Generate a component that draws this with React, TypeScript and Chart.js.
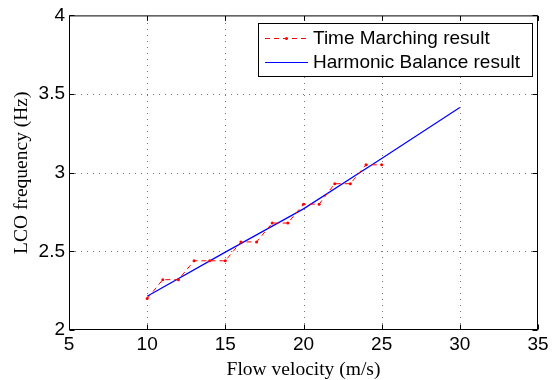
import React, { useEffect, useRef } from 'react';
import { Chart, registerables } from 'chart.js';

Chart.register(...registerables);

// ---- data ----
const tmVelocity = [10, 11, 12, 13, 14, 15, 16, 17, 18, 19, 20, 21, 22, 23, 24, 25];
const tmFrequency = [2.2, 2.32, 2.32, 2.44, 2.44, 2.44, 2.56, 2.56, 2.68, 2.68, 2.8, 2.8, 2.93, 2.93, 3.05, 3.05];
const hbVelocity = [10, 15, 20, 25, 30];
const hbFrequency = [2.215, 2.495, 2.77, 3.09, 3.415];
const xTickValues = [5, 10, 15, 20, 25, 30, 35];
const yTickValues = [2, 2.5, 3, 3.5, 4];
const seriesLabels = ['Time Marching result', 'Harmonic Balance result'];
const xTitle = 'Flow velocity (m/s)';
const yTitle = 'LCO frequency (Hz)';

const TICK_FONT = { family: 'Liberation Sans', size: 19 };
const TITLE_FONT = { family: 'Liberation Serif', size: 19.5, lineHeight: 1 };

const framePlugin = {
  id: 'matlabFrame',
  beforeDatasetsDraw(chart: any) {
    const { ctx, chartArea: a, scales } = chart;
    ctx.save();
    ctx.strokeStyle = '#777';
    ctx.lineWidth = 1;
    ctx.setLineDash([1, 5]);
    xTickValues.forEach((v) => {
      if (v === xTickValues[0] || v === xTickValues[xTickValues.length - 1]) return;
      const x = Math.round(scales.x.getPixelForValue(v)) + 0.5;
      ctx.beginPath();
      ctx.moveTo(x, a.bottom);
      ctx.lineTo(x, a.top);
      ctx.stroke();
    });
    yTickValues.forEach((v) => {
      if (v === yTickValues[0] || v === yTickValues[yTickValues.length - 1]) return;
      const y = Math.round(scales.y.getPixelForValue(v)) + 0.5;
      ctx.beginPath();
      ctx.moveTo(a.left, y);
      ctx.lineTo(a.right, y);
      ctx.stroke();
    });
    ctx.restore();
  },
  afterDatasetsDraw(chart: any) {
    const { ctx, chartArea: a, scales } = chart;
    ctx.save();
    ctx.setLineDash([]);
    ctx.strokeStyle = '#000';
    ctx.lineWidth = 1;
    const L = a.left + 0.5, R = a.right - 0.5, T = a.top + 0.5, B = a.bottom - 0.5;
    ctx.strokeRect(L, T, R - L, B - T);
    const tl = 5;
    ctx.beginPath();
    xTickValues.forEach((v) => {
      const x = Math.round(scales.x.getPixelForValue(v)) + 0.5;
      ctx.moveTo(x, B); ctx.lineTo(x, B - tl);
      ctx.moveTo(x, T); ctx.lineTo(x, T + tl);
    });
    yTickValues.forEach((v) => {
      const y = Math.round(scales.y.getPixelForValue(v)) + 0.5;
      ctx.moveTo(L, y); ctx.lineTo(L + tl, y);
      ctx.moveTo(R, y); ctx.lineTo(R - tl, y);
    });
    ctx.stroke();

    // legend
    const bx = 258.5, by = 23.5, bw = 274, bh = 53;
    ctx.fillStyle = '#fff';
    ctx.fillRect(bx, by, bw, bh);
    ctx.strokeRect(bx, by, bw, bh);
    const rows = [38, 62];
    chart.data.datasets.forEach((ds: any, i: number) => {
      const y = rows[i] + 0.5;
      ctx.save();
      ctx.strokeStyle = ds.borderColor;
      ctx.lineWidth = 1;
      ctx.setLineDash(ds.borderDash || []);
      ctx.beginPath();
      ctx.moveTo(265, y);
      ctx.lineTo(308, y);
      ctx.stroke();
      if (ds.pointRadius > 0) {
        ctx.fillStyle = ds.borderColor;
        ctx.beginPath();
        ctx.arc(286.5, y, ds.pointRadius, 0, Math.PI * 2);
        ctx.fill();
      }
      ctx.restore();
      ctx.fillStyle = '#000';
      ctx.font = `${TICK_FONT.size}px "${TICK_FONT.family}"`;
      ctx.textBaseline = 'middle';
      ctx.textAlign = 'left';
      ctx.fillText(ds.label, 313, rows[i] + 1);
    });
    ctx.restore();
  },
};

export default function App() {
  const canvasRef = useRef<HTMLCanvasElement>(null);

  useEffect(() => {
    document.body.style.margin = '0';
    const canvas = canvasRef.current;
    if (!canvas) return;
    const chart = new Chart(canvas, {
      type: 'line',
      data: {
        datasets: [
          {
            label: seriesLabels[0],
            data: tmVelocity.map((v, i) => ({ x: v, y: tmFrequency[i] })),
            borderColor: '#ff0000',
            backgroundColor: '#ff0000',
            borderWidth: 1,
            borderDash: [5, 4],
            pointRadius: 1.5,
            pointHoverRadius: 1.5,
            pointBorderWidth: 0,
            tension: 0,
          },
          {
            label: seriesLabels[1],
            data: hbVelocity.map((v, i) => ({ x: v, y: hbFrequency[i] })),
            borderColor: '#0000ff',
            backgroundColor: '#0000ff',
            borderWidth: 1.2,
            pointRadius: 0,
            tension: 0,
          },
        ],
      },
      options: {
        responsive: false,
        animation: false,
        events: [],
        layout: { padding: { top: 15, right: 21, left: 0, bottom: 0 } },
        plugins: { legend: { display: false }, tooltip: { enabled: false } },
        scales: {
          x: {
            type: 'linear',
            min: xTickValues[0],
            max: xTickValues[xTickValues.length - 1],
            afterBuildTicks: (s: any) => { s.ticks = xTickValues.map((v) => ({ value: v })); },
            afterFit: (s: any) => { s.height = 50; },
            grid: { display: false, drawTicks: false },
            border: { display: false },
            ticks: { color: '#000', font: TICK_FONT, padding: 3, maxRotation: 0, autoSkip: false, callback: (v: any) => String(v) },
            title: { display: true, text: xTitle, color: '#000', font: TITLE_FONT, padding: { top: 0, bottom: 0 } },
          },
          y: {
            type: 'linear',
            min: yTickValues[0],
            max: yTickValues[yTickValues.length - 1],
            afterBuildTicks: (s: any) => { s.ticks = yTickValues.map((v) => ({ value: v })); },
            afterFit: (s: any) => { s.width = 69; },
            grid: { display: false, drawTicks: false },
            border: { display: false },
            ticks: { color: '#000', font: TICK_FONT, padding: 4, autoSkip: false, callback: (v: any) => String(v) },
            title: { display: true, text: yTitle, color: '#000', font: TITLE_FONT, padding: { top: 12, bottom: 0 } },
          },
        },
      },
      plugins: [framePlugin],
    } as any);
    return () => chart.destroy();
  }, []);

  return (
    <div style={{ position: 'absolute', left: 0, top: 0, width: 559, height: 380, background: '#fff' }}>
      <canvas ref={canvasRef} width={559} height={380} />
    </div>
  );
}
